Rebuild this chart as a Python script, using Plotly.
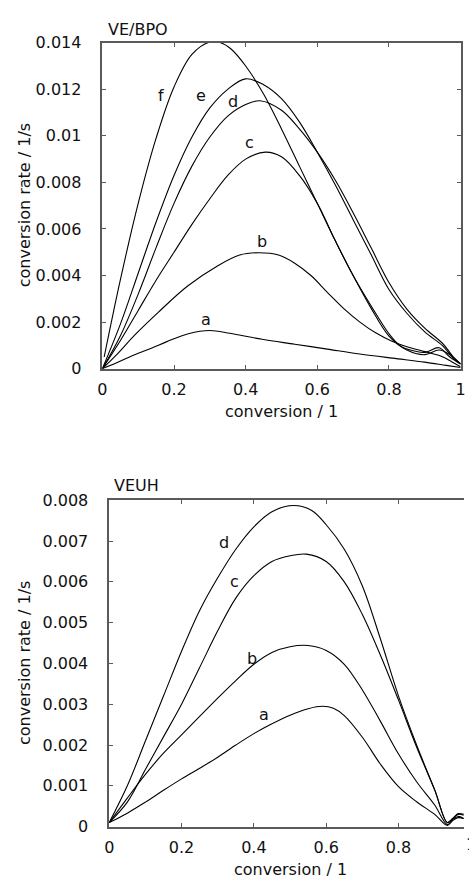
import plotly.graph_objects as go

# ---------------- data: VE/BPO (top) ----------------
top_a_x = [0, 0.04, 0.09, 0.14, 0.18, 0.24, 0.30, 0.356, 0.446, 0.537, 0.628, 0.719, 0.81, 0.90, 0.96, 1.0]
top_a_y = [0, 0.00025, 0.0006, 0.0009, 0.00116, 0.0015, 0.00164, 0.00152, 0.00126, 0.00105, 0.00084, 0.00063, 0.00045, 0.00028, 0.00014, 0.00005]

top_b_x = [0, 0.04, 0.09, 0.156, 0.238, 0.319, 0.383, 0.437, 0.492, 0.537, 0.583, 0.628, 0.674, 0.719, 0.764, 0.81, 0.855, 0.90, 0.946, 0.975, 1.0]
top_b_y = [0, 0.0006, 0.00144, 0.00242, 0.00355, 0.00439, 0.00488, 0.00498, 0.00488, 0.00453, 0.00399, 0.00328, 0.00258, 0.00200, 0.00153, 0.00117, 0.00092, 0.00073, 0.00053, 0.0003, 0.00008]

top_c_x = [0, 0.05, 0.10, 0.15, 0.20, 0.25, 0.30, 0.35, 0.40, 0.455, 0.50, 0.55, 0.60, 0.65, 0.70, 0.75, 0.80, 0.83, 0.86, 0.90, 0.94, 0.97, 1.0]
top_c_y = [0, 0.0012, 0.0025, 0.0038, 0.0050, 0.0062, 0.0073, 0.0083, 0.0090, 0.0093, 0.0091, 0.0083, 0.0071, 0.0055, 0.0040, 0.0027, 0.0015, 0.0010, 0.0008, 0.0007, 0.0009, 0.0005, 0.0002]

top_d_x = [0, 0.05, 0.10, 0.15, 0.20, 0.25, 0.30, 0.35, 0.40, 0.44, 0.50, 0.55, 0.60, 0.65, 0.70, 0.75, 0.80, 0.85, 0.90, 0.95, 0.98, 1.0]
top_d_y = [0, 0.0014, 0.0032, 0.0052, 0.0071, 0.0087, 0.00995, 0.01085, 0.01135, 0.01151, 0.0111, 0.0103, 0.0093, 0.0081, 0.0067, 0.0052, 0.0037, 0.00256, 0.00174, 0.00108, 0.0005, 0.0002]

top_e_x = [0, 0.05, 0.10, 0.15, 0.20, 0.25, 0.30, 0.35, 0.40, 0.45, 0.50, 0.55, 0.60, 0.65, 0.70, 0.75, 0.80, 0.85, 0.90, 0.95, 0.98, 1.0]
top_e_y = [0, 0.0019, 0.0041, 0.0063, 0.0083, 0.00995, 0.0112, 0.0120, 0.01245, 0.0122, 0.0116, 0.0106, 0.0093, 0.0079, 0.0064, 0.0049, 0.0034, 0.00238, 0.00158, 0.00098, 0.00045, 0.0002]

top_f_x = [0.005, 0.05, 0.10, 0.15, 0.20, 0.25, 0.30, 0.33, 0.36, 0.40, 0.45, 0.50, 0.55, 0.60, 0.65, 0.70, 0.75, 0.80, 0.85, 0.90, 0.94, 0.97, 1.0]
top_f_y = [0.0005, 0.0038, 0.0071, 0.0099, 0.0121, 0.0135, 0.01403, 0.0140, 0.01372, 0.0130, 0.0118, 0.0103, 0.0087, 0.0071, 0.0055, 0.0040, 0.0026, 0.0014, 0.0008, 0.0006, 0.0008, 0.0006, 0.0002]

# ---------------- data: VEUH (bottom) ----------------
bot_a_x = [0, 0.05, 0.10, 0.15, 0.20, 0.25, 0.30, 0.35, 0.40, 0.45, 0.50, 0.55, 0.59, 0.62, 0.65, 0.70, 0.75, 0.80, 0.85, 0.90, 0.935, 0.95, 0.965, 0.98]
bot_a_y = [0.0001, 0.00033, 0.0006, 0.00089, 0.00117, 0.00143, 0.0017, 0.002, 0.00228, 0.00252, 0.00273, 0.00289, 0.00295, 0.00290, 0.00272, 0.00219, 0.00153, 0.00098, 0.00061, 0.0003, 0.00003, 0.00015, 0.00022, 0.0002]

bot_b_x = [0, 0.05, 0.10, 0.15, 0.20, 0.25, 0.30, 0.35, 0.40, 0.45, 0.50, 0.55, 0.60, 0.65, 0.70, 0.75, 0.80, 0.85, 0.90, 0.935, 0.95, 0.965, 0.98]
bot_b_y = [0.0001, 0.0007, 0.00128, 0.0018, 0.00225, 0.0027, 0.00315, 0.00358, 0.00398, 0.00427, 0.00441, 0.00444, 0.00432, 0.00398, 0.00335, 0.00258, 0.00178, 0.0011, 0.00053, 0.00005, 0.00018, 0.00025, 0.0002]

bot_c_x = [0, 0.05, 0.10, 0.15, 0.20, 0.25, 0.30, 0.35, 0.40, 0.45, 0.50, 0.545, 0.60, 0.65, 0.70, 0.75, 0.80, 0.85, 0.90, 0.935, 0.95, 0.965, 0.98]
bot_c_y = [0.0001, 0.0006, 0.0014, 0.0022, 0.0030, 0.0039, 0.0048, 0.0056, 0.00615, 0.0065, 0.00664, 0.00668, 0.0065, 0.0060, 0.0052, 0.0042, 0.0031, 0.00195, 0.0009, 0.0001, 0.0002, 0.0003, 0.00028]

bot_d_x = [0, 0.05, 0.10, 0.15, 0.20, 0.25, 0.30, 0.35, 0.40, 0.45, 0.51, 0.56, 0.60, 0.65, 0.70, 0.75, 0.80, 0.85, 0.90, 0.935, 0.95, 0.965, 0.98]
bot_d_y = [0.0001, 0.0010, 0.0021, 0.0032, 0.0043, 0.0053, 0.0061, 0.0068, 0.00735, 0.00772, 0.00787, 0.00775, 0.0074, 0.0068, 0.0059, 0.0046, 0.0032, 0.0020, 0.0009, 0.0001, 0.0002, 0.00032, 0.0003]

# curve labels (letter, x, y)
top_labels = [("a", 0.29, 0.00211), ("b", 0.445, 0.00547), ("c", 0.412, 0.00972), ("d", 0.366, 0.01147),
              ("e", 0.274, 0.01172), ("f", 0.163, 0.01175)]
bot_labels = [("a", 0.428, 0.00274), ("b", 0.395, 0.00411), ("c", 0.347, 0.00601), ("d", 0.318, 0.00697)]

top_xticks = [0, 0.2, 0.4, 0.6, 0.8, 1.0]
top_xtext = ["0", "0.2", "0.4", "0.6", "0.8", "1"]
top_yticks = [0, 0.002, 0.004, 0.006, 0.008, 0.01, 0.012, 0.014]
top_ytext = ["0", "0.002", "0.004", "0.006", "0.008", "0.01", "0.012", "0.014"]
bot_xticks = [0, 0.2, 0.4, 0.6, 0.8, 1.0]
bot_xtext = ["0", "0.2", "0.4", "0.6", "0.8", "1"]
bot_yticks = [0, 0.001, 0.002, 0.003, 0.004, 0.005, 0.006, 0.007, 0.008]
bot_ytext = ["0", "0.001", "0.002", "0.003", "0.004", "0.005", "0.006", "0.007", "0.008"]

W, H = 469, 888
FONT = "DejaVu Sans"
FS = 16
AXC = "#5a5a5a"

fig = go.Figure()

def add(xs, ys, xa, ya):
    fig.add_trace(go.Scatter(x=xs, y=ys, mode="lines", xaxis=xa, yaxis=ya,
                             line=dict(color="black", width=1.1, shape="spline", smoothing=1.0),
                             showlegend=False, hoverinfo="skip"))

for xs, ys in [(top_a_x, top_a_y), (top_b_x, top_b_y), (top_c_x, top_c_y),
               (top_d_x, top_d_y), (top_e_x, top_e_y), (top_f_x, top_f_y)]:
    add(xs, ys, "x", "y")
for xs, ys in [(bot_a_x, bot_a_y), (bot_b_x, bot_b_y), (bot_c_x, bot_c_y), (bot_d_x, bot_d_y)]:
    add(xs, ys, "x2", "y2")

# pixel geometry
tx0, tx1, ty0, ty1 = 99.5, 465.5, 34.5, 367.5
bx0, by0, by1 = 106.5, 502.0, 835.5
bscale = 369.5
bx_end = (W - bx0) / bscale

axis_common = dict(showgrid=False, zeroline=False, showline=True, linecolor=AXC, linewidth=1.5,
                   ticks="inside", ticklen=4, tickwidth=1, tickcolor=AXC,
                   ticklabeloverflow="allow",
                   tickfont=dict(family=FONT, size=FS, color="#111"))

fig.update_layout(
    width=W, height=H, margin=dict(l=0, r=0, t=0, b=0),
    paper_bgcolor="white", plot_bgcolor="white",
    font=dict(family=FONT, size=FS, color="#111"),
    xaxis=dict(domain=[tx0 / W, tx1 / W], range=[0, 1], anchor="y", mirror="ticks",
               tickvals=top_xticks, ticktext=top_xtext, ticklabelstandoff=5, **axis_common),
    yaxis=dict(domain=[1 - ty1 / H, 1 - ty0 / H], range=[0, 0.014], anchor="x", mirror="ticks",
               tickvals=top_yticks, ticktext=top_ytext, ticklabelstandoff=16, **axis_common),
    xaxis2=dict(domain=[bx0 / W, 1], range=[0, bx_end], anchor="y2", mirror="ticks",
                tickvals=bot_xticks, ticktext=bot_xtext, ticklabelstandoff=5, **axis_common),
    yaxis2=dict(domain=[1 - by1 / H, 1 - by0 / H], range=[0, 0.008], anchor="x2", mirror=False,
                tickvals=bot_yticks, ticktext=bot_ytext, ticklabelstandoff=16, **axis_common),
)

ann = []
for t, x, y in top_labels:
    ann.append(dict(text=t, x=x, y=y, xref="x", yref="y", showarrow=False,
                    font=dict(family=FONT, size=FS, color="#111")))
for t, x, y in bot_labels:
    ann.append(dict(text=t, x=x, y=y, xref="x2", yref="y2", showarrow=False,
                    font=dict(family=FONT, size=FS, color="#111")))

def ptxt(text, px, py, xanchor="center", angle=0):
    ann.append(dict(text=text, x=px / W, y=1 - py / H, xref="paper", yref="paper",
                    xanchor=xanchor, yanchor="middle", showarrow=False, textangle=angle,
                    font=dict(family=FONT, size=FS, color="#111")))

ptxt("VE/BPO", 103, 20.5, "left")
ptxt("VEUH", 109, 487, "left")
ptxt("conversion rate / 1/s", 20, (ty0 + ty1) / 2, angle=-90)
ptxt("conversion rate / 1/s", 20, (by0 + by1) / 2, angle=-90)
ptxt("conversion / 1", (tx0 + tx1) / 2, 411)
ptxt("conversion / 1", (bx0 + bx0 + bscale) / 2, 879)
ptxt("1", bx0 + bscale, 854)

fig.update_layout(annotations=ann)
fig.write_html("out.html")
